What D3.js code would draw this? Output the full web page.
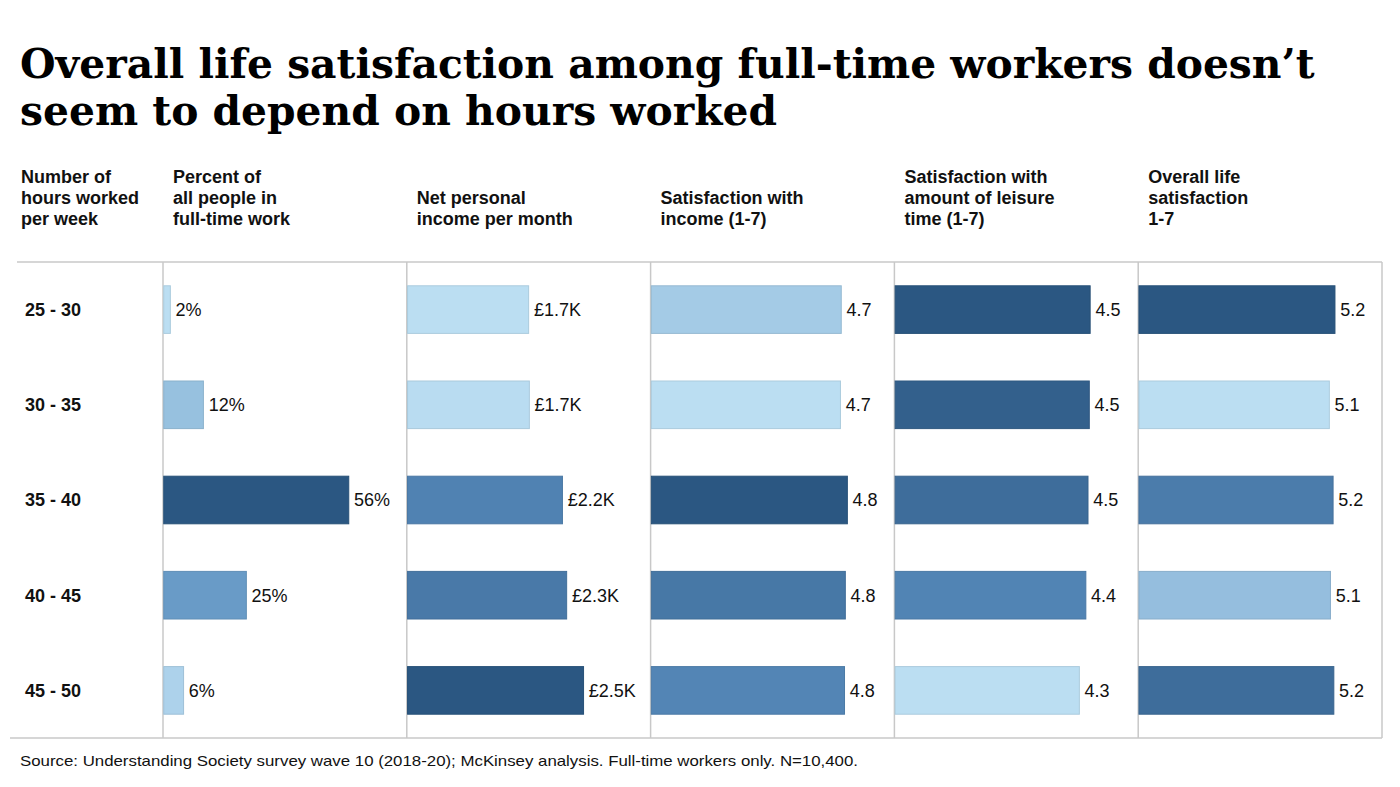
<!DOCTYPE html>
<html>
<head>
<meta charset="utf-8">
<script src="https://cdn.jsdelivr.net/npm/d3@7"></script>
<style>
  html, body { margin: 0; padding: 0; background: #fff; }
  svg { display: block; }
</style>
</head>
<body>
<svg id="chart" width="1400" height="787"></svg>
<script>
// ---------------- DATA ----------------
const titleLines = [
  "Overall life satisfaction among full-time workers doesn\u2019t",
  "seem to depend on hours worked"
];
const hoursBands = ["25 - 30", "30 - 35", "35 - 40", "40 - 45", "45 - 50"];
const rowHeader = ["Number of", "hours worked", "per week"];
const metricHeaders = [
  ["Percent of", "all people in", "full-time work"],
  ["Net personal", "income per month"],
  ["Satisfaction with", "income (1-7)"],
  ["Satisfaction with", "amount of leisure", "time (1-7)"],
  ["Overall life", "satisfaction", "1-7"]
];
const pctFullTime = [2, 12, 56, 25, 6];              // %
const netIncomeK  = [1.72, 1.73, 2.2, 2.26, 2.5];    // £ thousands
const satIncome   = [4.68, 4.66, 4.83, 4.78, 4.76];  // 1-7
const satLeisure  = [4.52, 4.50, 4.47, 4.42, 4.27];  // 1-7
const lifeSat     = [5.24, 5.09, 5.19, 5.12, 5.21];  // 1-7
const sourceNote = "Source: Understanding Society survey wave 10 (2018-20); McKinsey analysis. Full-time workers only. N=10,400.";

const metrics = [
  { values: pctFullTime, fmt: v => d3.format(".0f")(v) + "%" },
  { values: netIncomeK,  fmt: v => "\u00a3" + d3.format(".1f")(v) + "K" },
  { values: satIncome,   fmt: v => d3.format(".1f")(v) },
  { values: satLeisure,  fmt: v => d3.format(".1f")(v) },
  { values: lifeSat,     fmt: v => d3.format(".1f")(v) }
];

// ---------------- LAYOUT ----------------
const W = 1400, H = 787;
const tableTop = 262, tableBottom = 738;
const colLeft = 163, colRight = 1382;
const maxBarLen = [185, 176, 196, 195, 196];
const lightC = "#bbdef2", midC = "#5b8fc0", darkC = "#2b5782";
const gridC = "#c8c8c8";

const svg = d3.select("#chart");
svg.append("rect").attr("width", W).attr("height", H).attr("fill", "#fff");

// Title
const titleG = svg.append("g");
const titleY = [78, 125];
titleLines.forEach((t, i) => {
  titleG.append("text")
    .attr("x", 20).attr("y", titleY[i])
    .attr("font-family", "'DejaVu Serif', serif")
    .attr("font-weight", "bold")
    .attr("font-size", 44)
    .attr("fill", "#000")
    .text(t);
});
// fit title line 1 to reference width
{
  const nodes = titleG.selectAll("text").nodes();
  const w0 = nodes[0].getComputedTextLength();
  const target = 1295;
  const fs = 44 * target / w0;
  titleG.selectAll("text").attr("font-size", fs);
}

// Scales
const yBand = d3.scaleBand()
  .domain(hoursBands)
  .range([tableTop, tableBottom])
  .paddingInner(0.5)
  .paddingOuter(0.25);
const xCol = d3.scaleBand()
  .domain(d3.range(metrics.length))
  .range([colLeft, colRight]);

// Headers
const headerFont = "'Liberation Sans', Arial, sans-serif";
const headerLastBaseline = 225, headerLH = 21;
function drawHeader(lines, x) {
  const g = svg.append("g");
  lines.forEach((l, i) => {
    g.append("text")
      .attr("x", x)
      .attr("y", headerLastBaseline - (lines.length - 1 - i) * headerLH)
      .attr("font-family", headerFont)
      .attr("font-weight", "bold")
      .attr("font-size", 18)
      .attr("fill", "#111")
      .text(l);
  });
}
drawHeader(rowHeader, 21);
metricHeaders.forEach((h, i) => drawHeader(h, xCol(i) + 10));

// Grid lines
const grid = svg.append("g").attr("stroke", gridC).attr("stroke-width", 1.5);
grid.append("line").attr("x1", 17).attr("x2", colRight).attr("y1", tableTop).attr("y2", tableTop);
grid.append("line").attr("x1", 10).attr("x2", colRight).attr("y1", tableBottom).attr("y2", tableBottom);
const vx = d3.range(metrics.length).map(i => xCol(i)).concat([colRight]);
grid.selectAll("line.v").data(vx).enter().append("line")
  .attr("class", "v")
  .attr("x1", d => d).attr("x2", d => d)
  .attr("y1", tableTop).attr("y2", tableBottom);

// Row labels
svg.append("g").selectAll("text").data(hoursBands).enter().append("text")
  .attr("x", 25)
  .attr("y", d => yBand(d) + yBand.bandwidth() / 2)
  .attr("dy", "0.36em")
  .attr("font-family", headerFont)
  .attr("font-weight", "bold")
  .attr("font-size", 18)
  .attr("fill", "#111")
  .text(d => d);

// Bars
metrics.forEach((m, i) => {
  const x0 = xCol(i);
  const ext = d3.extent(m.values);
  const x = d3.scaleLinear().domain([0, ext[1]]).range([0, maxBarLen[i]]);
  const color = d3.scaleLinear()
    .domain([ext[0], (ext[0] + ext[1]) / 2, ext[1]])
    .range([lightC, midC, darkC])
    .interpolate(d3.interpolateRgb);
  const rows = m.values.map((v, j) => ({ v, band: hoursBands[j] }));
  const g = svg.append("g");
  g.selectAll("rect").data(rows).enter().append("rect")
    .attr("x", x0 + 0.75)
    .attr("y", d => yBand(d.band))
    .attr("width", d => x(d.v))
    .attr("height", yBand.bandwidth())
    .attr("fill", d => color(d.v))
    .attr("stroke", d => d3.color(color(d.v)).darker(0.25))
    .attr("stroke-width", 1);
  g.selectAll("text").data(rows).enter().append("text")
    .attr("x", d => x0 + x(d.v) + 6)
    .attr("y", d => yBand(d.band) + yBand.bandwidth() / 2)
    .attr("dy", "0.36em")
    .attr("font-family", headerFont)
    .attr("font-size", 18)
    .attr("fill", "#111")
    .text(d => m.fmt(d.v));
});

// Source
svg.append("text")
  .attr("x", 20).attr("y", 766)
  .attr("font-family", headerFont)
  .attr("font-size", 15)
  .attr("fill", "#111")
  .attr("textLength", 838)
  .attr("lengthAdjust", "spacingAndGlyphs")
  .text(sourceNote);
</script>
</body>
</html>
